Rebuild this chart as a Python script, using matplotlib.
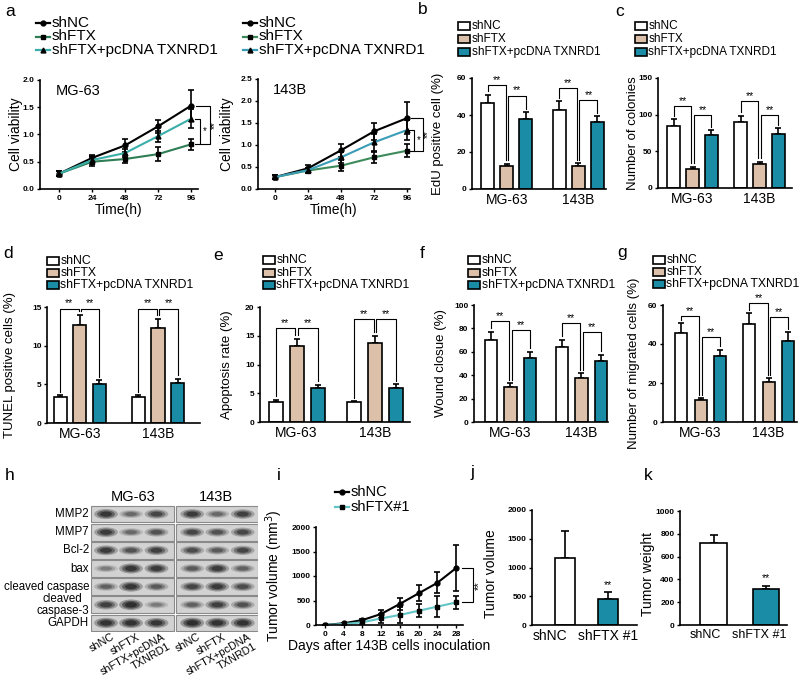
import matplotlib.pyplot as plt
import numpy as np
from matplotlib.patches import Rectangle, Ellipse
import matplotlib.transforms as mtrans

plt.rcParams['font.family'] = ['Liberation Sans', 'DejaVu Sans']

W, H = 800, 681

# ---- data ----
groups = ['MG-63', '143B']
series = ['shNC', 'shFTX', 'shFTX+pcDNA TXNRD1']

hours = [0, 24, 48, 72, 96]
mg_nc = [0.28, 0.57, 0.80, 1.15, 1.53]
mg_nc_err = [0.05, 0.06, 0.12, 0.12, 0.29]
mg_ftx = [0.28, 0.50, 0.55, 0.64, 0.82]
mg_ftx_err = [0.05, 0.08, 0.07, 0.13, 0.10]
mg_pc = [0.28, 0.53, 0.66, 0.97, 1.29]
mg_pc_err = [0.05, 0.07, 0.08, 0.10, 0.17]

b1_nc = [0.27, 0.47, 0.88, 1.31, 1.61]
b1_nc_err = [0.04, 0.07, 0.15, 0.20, 0.37]
b1_ftx = [0.27, 0.42, 0.53, 0.72, 0.87]
b1_ftx_err = [0.05, 0.05, 0.12, 0.13, 0.15]
b1_pc = [0.27, 0.43, 0.72, 1.06, 1.34]
b1_pc_err = [0.04, 0.05, 0.12, 0.20, 0.22]

# bar panels: [MG-63, 143B] x [shNC, shFTX, pcDNA]
edu = [[46.5, 12.5, 37.8], [42.9, 12.7, 36.0]]
edu_err = [[4.5, 1.2, 3.8], [4.5, 1.2, 3.3]]
edu_top = [[56.4, 50.5], [54.6, 48.3]]

colonies = [[85, 26, 72], [89.5, 32.5, 73.6]]
colonies_err = [[9, 3, 7], [9, 3.5, 8]]
colonies_top = [[112, 100], [118, 100]]

tunel = [[3.3, 12.7, 5.0], [3.3, 12.3, 5.2]]
tunel_err = [[0.3, 1.3, 0.5], [0.3, 1.2, 0.5]]
tunel_top = [[14.8, 14.8], [14.8, 14.8]]

apop = [[3.45, 13.3, 5.9], [3.4, 13.7, 6.0]]
apop_err = [[0.4, 1.2, 0.55], [0.25, 1.3, 0.6]]
apop_top = [[16.4, 16.4], [17.9, 17.9]]

wound = [[70, 30, 54.5], [64, 38, 52.5]]
wound_err = [[7, 3, 5.5], [6.5, 3.5, 5]]
wound_top = [[86.5, 78.5], [84.5, 76.5]]

migr = [[45.8, 11.1, 33.6], [50.3, 20.5, 41.7]]
migr_err = [[4.8, 1.2, 3.4], [5.4, 2.0, 4.3]]
migr_top = [[54.4, 43.8], [61.2, 54.0]]

# western blot band strength (0-1)
blot_rows = ['MMP2', 'MMP7', 'Bcl-2', 'bax', 'cleaved caspase', 'cleaved\ncaspase-3', 'GAPDH']
blot_lanes = ['shNC', 'shFTX', 'shFTX+pcDNA']
blot_mg = [[0.85, 0.45, 0.70], [0.80, 0.45, 0.60], [0.80, 0.60, 0.75], [0.35, 0.85, 0.80],
           [0.50, 0.85, 0.55], [0.75, 0.95, 0.35], [0.90, 0.90, 0.85]]
blot_143 = [[0.80, 0.45, 0.75], [0.70, 0.60, 0.70], [0.65, 0.55, 0.70], [0.55, 0.80, 0.50],
            [0.70, 0.80, 0.65], [0.50, 0.75, 0.60], [0.95, 0.90, 0.90]]

days = [0, 4, 8, 12, 16, 20, 24, 28]
vol_nc = [0, 35, 100, 225, 430, 645, 860, 1160]
vol_nc_err = [5, 15, 30, 75, 115, 165, 215, 470]
vol_ftx = [0, 20, 55, 135, 205, 290, 375, 460]
vol_ftx_err = [5, 10, 25, 90, 170, 130, 215, 130]

xeno = ['shNC', 'shFTX #1']
tumor_vol = [1160, 450]
tumor_vol_err = [470, 120]
tumor_wt = [715, 315]
tumor_wt_err = [72, 30]

bar_cols = ['white', '#DCC0AA', '#1A8CA6']

fig = plt.figure(figsize=(W / 100, H / 100), dpi=100)
ov = fig.add_axes([0, 0, 1, 1], zorder=10)
ov.axis('off')


def px_axes(l, t, r, b):
    return fig.add_axes([l / W, 1 - b / H, (r - l) / W, (b - t) / H])


def clean(ax, yticks, fmt='{:g}'):
    ax.spines[['top', 'right']].set_visible(False)
    ax.spines[['left', 'bottom']].set_linewidth(1.2)
    ax.set_yticks(yticks)
    ax.set_yticklabels([fmt.format(v) for v in yticks], fontsize=6, fontweight='bold')
    ax.tick_params(axis='y', length=2.5, width=1, pad=1.5)
    ax.set_ylim(yticks[0], yticks[-1])


def bar_panel(ax, means, errs, tops, gap, width, yticks, xlim, ylabel, labx):
    clean(ax, yticks)
    pad = 0.03 * yticks[-1]
    for g in range(2):
        xs = g * gap + np.arange(3)
        for k in range(3):
            ax.bar(xs[k], means[g][k], width, color=bar_cols[k], edgecolor='black', linewidth=1.2, zorder=2)
            ax.errorbar(xs[k], means[g][k], yerr=[[0], [errs[g][k]]], fmt='none', ecolor='black',
                        elinewidth=1.2, capsize=2.5, capthick=1.2, zorder=1)
        ends = [means[g][k] + errs[g][k] + pad for k in range(3)]
        for j, (k1, k2) in enumerate([(0, 1), (1, 2)]):
            x1 = xs[k1] + (0.06 if k1 == 1 else 0)
            x2 = xs[k2] - (0.06 if k2 == 1 else 0)
            y = tops[g][j]
            ax.plot([x1, x1, x2, x2], [ends[k1], y, y, ends[k2]], color='black', lw=0.8, clip_on=False)
            ax.text((x1 + x2) / 2, y, '**', ha='center', va='bottom', fontsize=7.5)
    ax.set_xlim(*xlim)
    ax.set_xticks([1, gap + 1])
    ax.set_xticklabels(groups, fontsize=10)
    ax.tick_params(axis='x', length=0, pad=3)
    ax.set_ylabel(ylabel, fontsize=9.5)
    ax.yaxis.set_label_coords(labx, 0.5)


def bar_legend(x, y, dy, fs):
    for k, lab in enumerate(series):
        yy = y + k * dy
        ov.add_patch(Rectangle((x, yy - 4), 12, 8, facecolor=bar_cols[k], edgecolor='black', lw=1.2))
        ov.text(x + 13.5, yy, lab, fontsize=fs, va='center', ha='left')


def line_legend(x, y, dy, fs, labels, cols, marks, length=14):
    for k, lab in enumerate(labels):
        yy = y + k * dy
        ov.plot([x, x + length], [yy, yy], color=cols[k], lw=1.6)
        ov.plot(x + length / 2, yy, marker=marks[k], color='black', ms=3.5)
        ov.text(x + length + 2, yy, lab, fontsize=fs, va='center', ha='left')


def side_bracket(ax, ys, x_in, x_out, stars, star_dx):
    tr = mtrans.blended_transform_factory(ax.transAxes, ax.transData)
    top_in, top_out, bot = ys
    ax.plot([x_in - 0.03, x_in, x_in, x_in - 0.03], [top_in, top_in, bot, bot],
            color='black', lw=0.8, transform=tr, clip_on=False)
    ax.plot([x_in - 0.02, x_out, x_out, x_in], [top_out, top_out, bot, bot],
            color='black', lw=0.8, transform=tr, clip_on=False)
    ax.text((x_in + x_out) / 2, (top_in + bot) / 2, stars[0], transform=tr, ha='center', va='center', fontsize=7)
    ax.text(x_out + star_dx, (top_out + bot) / 2, stars[1], transform=tr, ha='center', va='center',
            fontsize=7, rotation=90)


line_cols_a = ['black', '#2E7D55', '#3AAFA9']
line_cols_b = ['black', '#3D8B5C', '#3A9DB5']
marks = ['o', 's', '^']


def viability(ax, data, cols, yticks, xlim, name):
    clean(ax, yticks, '{:.1f}')
    for (m, e), c, mk in zip(data, cols, marks):
        ax.errorbar(hours, m, yerr=e, color=c, lw=1.5, marker=mk, ms=3.5, mfc='black', mec='black',
                    ecolor='black', elinewidth=1.2, capsize=2.5, capthick=1.2)
    ax.set_xlim(*xlim)
    ax.set_xticks(hours)
    ax.set_xticklabels([str(h) for h in hours], fontsize=6, fontweight='bold')
    ax.tick_params(axis='x', length=2.5, width=1, pad=1.5)
    ax.set_xlabel('Time(h)', fontsize=10, labelpad=1)
    ax.set_ylabel('Cell viability', fontsize=10)
    ax.text(0.1, 0.9, name, transform=ax.transAxes, fontsize=10.5, va='center')


# ---- panel a ----
ax = px_axes(40, 80, 198, 189)
viability(ax, [(mg_nc, mg_nc_err), (mg_ftx, mg_ftx_err), (mg_pc, mg_pc_err)], line_cols_a,
          [0, 0.5, 1.0, 1.5, 2.0], (-13.8, 101), 'MG-63')
ax.yaxis.set_label_coords(-0.11, 0.5)
side_bracket(ax, (mg_pc[-1], mg_nc[-1], mg_ftx[-1]), 1.01, 1.075, ('*', '**'), 0.035)
line_legend(36, 23, 13.5, 11, series, line_cols_a, marks)

ax = px_axes(258, 79, 410, 189)
viability(ax, [(b1_nc, b1_nc_err), (b1_ftx, b1_ftx_err), (b1_pc, b1_pc_err)], line_cols_b,
          [0, 0.5, 1.0, 1.5, 2.0, 2.5], (-12.4, 98.2), '143B')
ax.yaxis.set_label_coords(-0.155, 0.5)
side_bracket(ax, (b1_pc[-1], b1_nc[-1], b1_ftx[-1]), 1.025, 1.085, ('*', '**'), 0.03)
line_legend(243, 23, 13.5, 11, series, line_cols_b, marks)

# ---- panels b-g ----
bar_panel(px_axes(472, 78, 606, 189), edu, edu_err, edu_top, 3.75, 0.67,
          [0, 20, 40, 60], (-0.82, 6.2), 'EdU positive cell (%)', -0.21)
bar_legend(458, 26, 13, 8.5)

bar_panel(px_axes(658, 78, 792, 188), colonies, colonies_err, colonies_top, 3.57, 0.7,
          [0, 50, 100, 150], (-0.84, 6.3), 'Number of colonies', -0.145)
bar_legend(635, 26, 13, 8.5)

bar_panel(px_axes(47, 307, 200, 423), tunel, tunel_err, tunel_top, 3.97, 0.66,
          [0, 5, 10, 15], (-0.66, 7.1), 'TUNEL positive cells (%)', -0.2)
bar_legend(47, 261, 12, 8.8)

bar_panel(px_axes(260, 307, 410, 422), apop, apop_err, apop_top, 3.74, 0.67,
          [0, 5, 10, 15, 20], (-0.74, 6.4), 'Apoptosis rate (%)', -0.18)
bar_legend(263, 260, 12.5, 8.8)

bar_panel(px_axes(474, 305, 608, 422), wound, wound_err, wound_top, 3.6, 0.62,
          [0, 20, 40, 60, 80, 100], (-0.85, 5.95), 'Wound closue (%)', -0.2)
bar_legend(468, 260, 12.5, 8.8)

bar_panel(px_axes(663, 305, 797, 422), migr, migr_err, migr_top, 3.53, 0.63,
          [0, 20, 40, 60], (-0.95, 6.0), 'Number of migrated cells (%)', -0.17)
bar_legend(653, 260, 12, 8.8)

# ---- panel h: western blot ----
axh = px_axes(91, 505, 258, 632)
axh.set_xlim(0, 6.68)
axh.set_ylim(7, 0)
axh.axis('off')
boxes = [(0.0, 3.32, [0.6, 1.6, 2.62], blot_mg), (3.4, 6.68, [4.05, 5.05, 6.07], blot_143)]
for x0, x1, lanes, vals in boxes:
    for r in range(len(blot_rows)):
        axh.add_patch(Rectangle((x0, r + 0.04), x1 - x0, 0.92, facecolor='#d2d2d2', edgecolor='#8a8a8a', lw=0.8))
        for lx, v in zip(lanes, vals[r]):
            for s, a in [(1.0, 0.35), (0.75, 0.55), (0.5, 0.75)]:
                axh.add_patch(Ellipse((lx, r + 0.5), 0.95 * s, 0.5 * s * (0.6 + 0.6 * v),
                                      facecolor='#1e1e1e', edgecolor='none', alpha=a * v))
for r, name in enumerate(blot_rows):
    ov.text(89, 505 + (r + 0.5) * 127 / 7, name, ha='right', va='center', fontsize=8.3,
            multialignment='center', linespacing=0.95)
ov.text(133, 497, 'MG-63', ha='center', va='center', fontsize=10.5)
ov.text(216, 497, '143B', ha='center', va='center', fontsize=10.5)
for base in (106, 192):
    for k, lab in enumerate(blot_lanes):
        ov.text(base + k * 25.5 + 5, 632, lab, rotation=30, ha='right', va='top', rotation_mode='anchor',
                fontsize=7.8)
    # second line of the third lane label
    ov.text(base + 2 * 25.5 + 10, 641, 'TXNRD1', rotation=30, ha='right', va='top', rotation_mode='anchor',
            fontsize=7.8)

# ---- panel i ----
ax = px_axes(316, 527, 463, 625)
clean(ax, [0, 500, 1000, 1500, 2000])
ax.errorbar(days, vol_nc, yerr=vol_nc_err, color='black', lw=1.5, marker='o', ms=3.5,
            ecolor='black', elinewidth=1.2, capsize=2.5, capthick=1.2)
ax.errorbar(days, vol_ftx, yerr=vol_ftx_err, color='#62C4C4', lw=1.5, marker='s', ms=3.5, mfc='black',
            mec='black', ecolor='black', elinewidth=1.2, capsize=2.5, capthick=1.2)
ax.set_xlim(-1.9, 29.5)
ax.set_xticks(days)
ax.set_xticklabels([str(d) for d in days], fontsize=6, fontweight='bold')
ax.tick_params(axis='x', length=2.5, width=1, pad=1.5)
ax.set_xlabel('Days after 143B cells inoculation', fontsize=10, labelpad=1)
ax.set_ylabel('Tumor volume (mm$^3$)', fontsize=10)
ax.yaxis.set_label_coords(-0.21, 0.5)
tr = mtrans.blended_transform_factory(ax.transAxes, ax.transData)
ax.plot([0.99, 1.068, 1.068, 0.99], [vol_nc[-1], vol_nc[-1], vol_ftx[-1], vol_ftx[-1]],
        color='black', lw=0.8, transform=tr, clip_on=False)
ax.text(1.11, (vol_nc[-1] + vol_ftx[-1]) / 2, '**', transform=tr, rotation=90, ha='center', va='center', fontsize=8)
line_legend(335, 492, 15, 10.5, ['shNC', 'shFTX#1'], ['black', '#62C4C4'], ['o', 's'])

# ---- panels j, k ----
for (l, t, r, b), vals, errs, yt, xl, w, lab, lx, lab_x, fs in [
        ((532, 510, 637, 625), tumor_vol, tumor_vol_err, [0, 500, 1000, 1500, 2000], (-0.77, 1.67), 0.47,
         'Tumor volume', -0.32, [-0.35, 1.0], 10),
        ((680, 511, 787, 625), tumor_wt, tumor_wt_err, [0, 200, 400, 600, 800, 1000], (-0.64, 1.4), 0.5,
         'Tumor weight', -0.23, [-0.15, 0.87], 9)]:
    ax = px_axes(l, t, r, b)
    clean(ax, yt)
    ax.bar([0, 1], vals, w, color=['white', bar_cols[2]], edgecolor='black', linewidth=1.2, zorder=2)
    ax.errorbar([0, 1], vals, yerr=[[0, 0], errs], fmt='none', ecolor='black', elinewidth=1.2,
                capsize=3, capthick=1.2, zorder=1)
    ax.text(1, vals[1] + errs[1] + 0.02 * yt[-1], '**', ha='center', va='bottom', fontsize=7.5)
    ax.set_xlim(*xl)
    ax.set_xticks(lab_x)
    ax.set_xticklabels(xeno, fontsize=fs)
    ax.tick_params(axis='x', length=0, pad=3)
    ax.set_ylabel(lab, fontsize=10)
    ax.yaxis.set_label_coords(lx, 0.45)

# ---- panel letters ----
for letter, x, y in [('a', 10, 12), ('b', 423, 10), ('c', 620, 12), ('d', 8, 253), ('e', 218, 255),
                     ('f', 422, 253), ('g', 622, 253), ('h', 10, 475), ('i', 279, 475), ('j', 472, 473),
                     ('k', 648, 475)]:
    ov.text(x, y, letter, fontsize=12.5, ha='center', va='center')

ov.set_xlim(0, W)
ov.set_ylim(H, 0)
fig.savefig('out.png', dpi=100)
